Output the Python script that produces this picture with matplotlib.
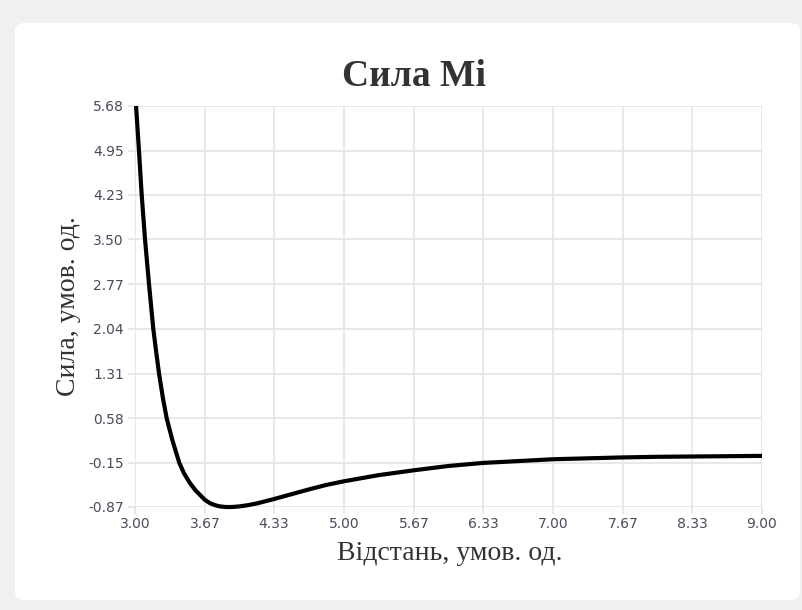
import matplotlib.pyplot as plt
from matplotlib.patches import FancyBboxPatch

# values
distance = [3.010, 3.038, 3.064, 3.096, 3.134, 3.175, 3.200, 3.230, 3.265, 3.303,
            3.357, 3.424, 3.469, 3.526, 3.580, 3.638, 3.670, 3.720, 3.766, 3.810,
            3.870, 3.930, 4.000, 4.080, 4.170, 4.330, 4.500, 4.670, 4.830, 5.000,
            5.330, 5.670, 6.000, 6.330, 6.670, 7.000, 7.330, 7.670, 8.000, 8.330,
            8.670, 9.000]
force = [5.68, 4.95, 4.23, 3.50, 2.77, 2.04, 1.70, 1.31, 0.93, 0.58,
         0.225, -0.15, -0.32, -0.48, -0.60, -0.70, -0.755, -0.81, -0.84, -0.86,
         -0.87, -0.87, -0.86, -0.84, -0.81, -0.74, -0.66, -0.58, -0.51, -0.45,
         -0.35, -0.27, -0.20, -0.15, -0.12, -0.09, -0.075, -0.06, -0.05, -0.045,
         -0.04, -0.035]

x_ticks = [3.00, 3.67, 4.33, 5.00, 5.67, 6.33, 7.00, 7.67, 8.33, 9.00]
y_ticks = [-0.87, -0.15, 0.58, 1.31, 2.04, 2.77, 3.50, 4.23, 4.95, 5.68]

title = "Сила Mi"
x_label = "Відстань, умов. од."
y_label = "Сила, умов. од."

W, H = 803, 610
fig = plt.figure(figsize=(W / 100, H / 100), dpi=100)
fig.patch.set_facecolor("#f0f0f0")

# white card behind everything
card = FancyBboxPatch((15 / W, (H - 600) / H), 785 / W, 577 / H,
                      boxstyle="round,pad=0,rounding_size=0.012",
                      transform=fig.transFigure, facecolor="white",
                      edgecolor="none", zorder=-5)
fig.patches.append(card)

ax = fig.add_axes([135 / W, 1 - 507 / H, 627 / W, 401 / H])
ax.set_zorder(2)
ax.set_facecolor("none")

ax.plot(distance, force, color="black", lw=3, clip_on=False, zorder=3,
        solid_joinstyle="round", solid_capstyle="butt")

ax.set_xlim(3.00, 9.00)
ax.set_ylim(-0.87, 5.68)
ax.set_xticks(x_ticks)
ax.set_xticklabels([f"{v:.2f}" for v in x_ticks])
ax.set_yticks(y_ticks)
ax.set_yticklabels([f"{v:.2f}" for v in y_ticks])

ax.grid(True, color="#e6e6e6", lw=1.3)
ax.set_axisbelow(True)
for s in ax.spines.values():
    s.set_visible(False)
ax.tick_params(axis="both", length=5, width=1.3, color="#e6e6e6",
               labelsize=10, labelcolor="#4a4a5a", pad=2)
ax.tick_params(axis="y", pad=3)
for lab in ax.get_xticklabels() + ax.get_yticklabels():
    lab.set_family("DejaVu Sans")

serif = "Liberation Serif"
fig.text(414 / W, 1 - 76 / H, title, ha="center", va="center",
         fontsize=27, fontweight="bold", family=serif, color="#333333")
fig.text(450 / W, 1 - 553 / H, x_label, ha="center", va="center",
         fontsize=20, family=serif, color="#333333")
fig.text(69 / W, 1 - 306 / H, y_label, ha="center", va="center",
         rotation=90, fontsize=20, family=serif, color="#333333")

fig.savefig("out.png", dpi=100, facecolor=fig.get_facecolor())
